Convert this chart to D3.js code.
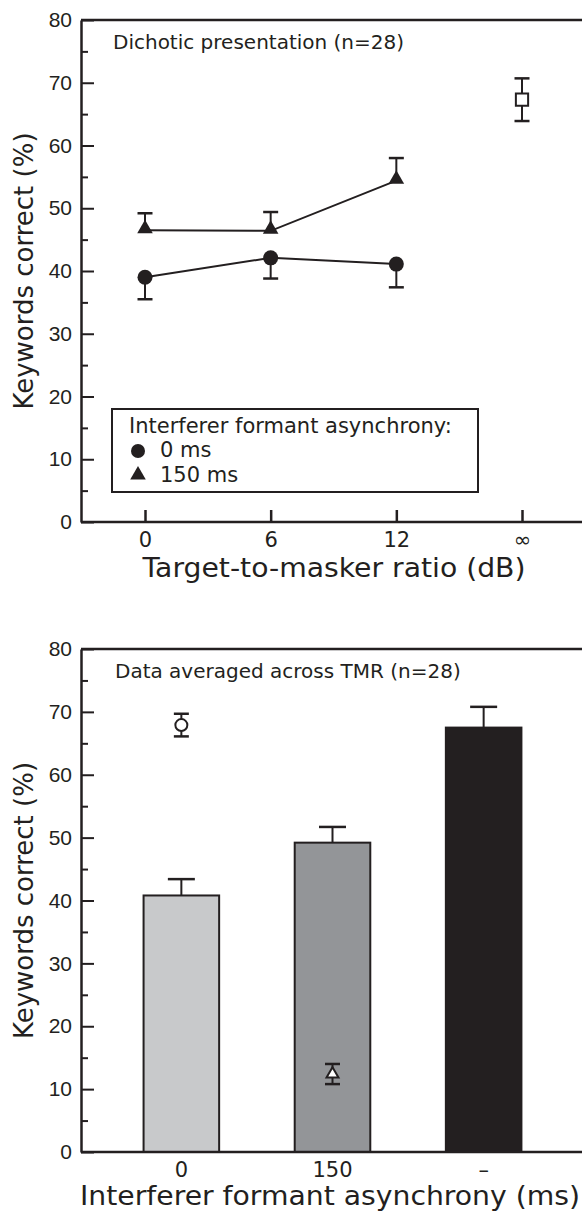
<!DOCTYPE html>
<html>
<head>
<meta charset="utf-8">
<script src="https://cdn.jsdelivr.net/npm/d3@7"></script>
<style>
  body { margin: 0; background: #fff; }
  svg text { fill: #231f20; font-family: "DejaVu Sans", sans-serif; }
</style>
</head>
<body>
<div id="chart"></div>
<script>
// Top panel: dichotic presentation, keywords correct by TMR
const tmrLabels = ["0", "6", "12", "∞"];
const sync0Mean = [39.0, 42.1, 41.1];
const sync0Err = [3.5, 3.3, 3.7];
const async150Mean = [46.5, 46.4, 54.4];
const async150Err = [2.7, 3.0, 3.6];
const refMean = 67.3;   // square at infinite TMR
const refErr = 3.4;

// Bottom panel: averaged across TMR
const asyncLabels = ["0", "150", "–"];
const barMeans = [40.8, 49.2, 67.5];
const barErrs = [2.6, 2.5, 3.3];
const barColors = ["#c8c9cb", "#939598", "#231f20"];
const openCircle = { cat: "0", mean: 67.9, err: 1.8 };
const openTriangle = { cat: "150", mean: 12.4, err: 1.6 };

// Shared y ticks
const yTicks = [0, 10, 20, 30, 40, 50, 60, 70, 80];
const yMinor = [5, 15, 25, 35, 45, 55, 65, 75];

const ink = "#231f20";
const width = 582, height = 1213;
const axisLeftX = 81, axisRightX = 582;

const svg = d3.select("#chart")
    .append("svg")
    .attr("width", width)
    .attr("height", height);

// Draws the left axis with major + minor inward ticks and a top frame line
function drawFrame(g, y) {
    g.append("g")
        .attr("transform", `translate(${axisLeftX},0)`)
        .call(d3.axisLeft(y).tickValues(yMinor).tickSize(-7).tickFormat(""))
        .call((a) => a.select(".domain").remove())
        .call((a) => a.selectAll("line").attr("stroke", ink).attr("stroke-width", 2));

    g.append("g")
        .attr("transform", `translate(${axisLeftX},0)`)
        .call(d3.axisLeft(y).tickValues(yTicks).tickSize(-13).tickPadding(9).tickSizeOuter(0))
        .call((a) => a.select(".domain").attr("stroke", ink).attr("stroke-width", 2.5))
        .call((a) => a.selectAll("line").attr("stroke", ink).attr("stroke-width", 2))
        .call((a) => a.selectAll("text")
            .style("font-family", "'Liberation Sans', Arial, sans-serif")
            .attr("font-size", 21));

    // top frame and x baseline
    g.append("line")
        .attr("x1", axisLeftX).attr("x2", axisRightX)
        .attr("y1", y(80)).attr("y2", y(80))
        .attr("stroke", ink).attr("stroke-width", 2.5);
    g.append("line")
        .attr("x1", axisLeftX).attr("x2", axisRightX)
        .attr("y1", y(0)).attr("y2", y(0))
        .attr("stroke", ink).attr("stroke-width", 2.5);

    // y title
    const mid = (y(0) + y(80)) / 2;
    g.append("text")
        .attr("transform", `translate(33,${mid}) rotate(-90)`)
        .attr("text-anchor", "middle")
        .attr("font-size", 26)
        .text("Keywords correct (%)");
}

function errBar(g, x, y0, y1, capW) {
    g.append("line")
        .attr("x1", x).attr("x2", x).attr("y1", y0).attr("y2", y1)
        .attr("stroke", ink).attr("stroke-width", 2);
    g.append("line")
        .attr("x1", x - capW / 2).attr("x2", x + capW / 2).attr("y1", y1).attr("y2", y1)
        .attr("stroke", ink).attr("stroke-width", 2.5);
}

// ---------------- Top panel ----------------
const gTop = svg.append("g");
const xTop = d3.scalePoint().domain(tmrLabels).range([145, 522]);
const yTop = d3.scaleLinear().domain([0, 80]).range([522, 20]);

drawFrame(gTop, yTop);

gTop.append("g")
    .attr("transform", `translate(0,${yTop(0)})`)
    .call(d3.axisBottom(xTop).tickSize(-12).tickPadding(10).tickSizeOuter(0))
    .call((a) => a.select(".domain").remove())
    .call((a) => a.selectAll("line").attr("stroke", ink).attr("stroke-width", 2.5))
    .call((a) => a.selectAll("text").attr("font-size", 21));

gTop.append("text")
    .attr("x", 334).attr("y", 577)
    .attr("text-anchor", "middle")
    .attr("font-size", 26)
    .attr("textLength", 383)
    .attr("lengthAdjust", "spacingAndGlyphs")
    .text("Target-to-masker ratio (dB)");

gTop.append("text")
    .attr("x", 113).attr("y", 49)
    .attr("font-size", 20)
    .text("Dichotic presentation (n=28)");

const lineTop = d3.line()
    .x((d, i) => xTop(tmrLabels[i]))
    .y((d) => yTop(d));

gTop.append("path").datum(sync0Mean)
    .attr("d", lineTop).attr("fill", "none")
    .attr("stroke", ink).attr("stroke-width", 2);
gTop.append("path").datum(async150Mean)
    .attr("d", lineTop).attr("fill", "none")
    .attr("stroke", ink).attr("stroke-width", 2);

sync0Mean.forEach((m, i) => {
    const x = xTop(tmrLabels[i]);
    errBar(gTop, x, yTop(m), yTop(m - sync0Err[i]), 15);
});
async150Mean.forEach((m, i) => {
    const x = xTop(tmrLabels[i]);
    errBar(gTop, x, yTop(m), yTop(m + async150Err[i]), 15);
});

gTop.selectAll("circle.sync0")
    .data(sync0Mean)
    .join("circle")
    .attr("class", "sync0")
    .attr("cx", (d, i) => xTop(tmrLabels[i]))
    .attr("cy", (d) => yTop(d))
    .attr("r", 7.5)
    .attr("fill", ink);

const triFilled = d3.symbol().type(d3.symbolTriangle).size(105);
gTop.selectAll("path.async150")
    .data(async150Mean)
    .join("path")
    .attr("class", "async150")
    .attr("d", triFilled)
    .attr("transform", (d, i) => `translate(${xTop(tmrLabels[i])},${yTop(d) - 1.5})`)
    .attr("fill", ink);

// reference square at infinite TMR
const xRef = xTop("∞");
errBar(gTop, xRef, yTop(refMean), yTop(refMean + refErr), 15);
errBar(gTop, xRef, yTop(refMean), yTop(refMean - refErr), 15);
gTop.append("path")
    .attr("d", d3.symbol().type(d3.symbolSquare).size(150))
    .attr("transform", `translate(${xRef},${yTop(refMean)})`)
    .attr("fill", "#fff").attr("stroke", ink).attr("stroke-width", 2);

// legend
const lg = gTop.append("g");
lg.append("rect")
    .attr("x", 112).attr("y", 409).attr("width", 366).attr("height", 83)
    .attr("fill", "#fff").attr("stroke", ink).attr("stroke-width", 2);
lg.append("text").attr("x", 129).attr("y", 433).attr("font-size", 21)
    .text("Interferer formant asynchrony:");
lg.append("circle").attr("cx", 138).attr("cy", 451).attr("r", 7).attr("fill", ink);
lg.append("text").attr("x", 160).attr("y", 457).attr("font-size", 21).text("0 ms");
lg.append("path").attr("d", triFilled)
    .attr("transform", "translate(138,475)").attr("fill", ink);
lg.append("text").attr("x", 160).attr("y", 482).attr("font-size", 21).text("150 ms");

// ---------------- Bottom panel ----------------
const gBot = svg.append("g");
const xBot = d3.scaleBand().domain(asyncLabels).range([68, 597]).paddingInner(0.5).paddingOuter(0.5);
const yBot = d3.scaleLinear().domain([0, 80]).range([1152, 649]);

gBot.selectAll("rect.bar")
    .data(barMeans)
    .join("rect")
    .attr("class", "bar")
    .attr("x", (d, i) => xBot(asyncLabels[i]))
    .attr("y", (d) => yBot(d))
    .attr("width", xBot.bandwidth())
    .attr("height", (d) => yBot(0) - yBot(d))
    .attr("fill", (d, i) => barColors[i])
    .attr("stroke", ink).attr("stroke-width", 2);

barMeans.forEach((m, i) => {
    const x = xBot(asyncLabels[i]) + xBot.bandwidth() / 2;
    errBar(gBot, x, yBot(m), yBot(m + barErrs[i]), 27);
});

drawFrame(gBot, yBot);

gBot.append("g")
    .attr("transform", `translate(0,${yBot(0)})`)
    .call(d3.axisBottom(xBot).tickSize(0).tickPadding(10))
    .call((a) => a.select(".domain").remove())
    .call((a) => a.selectAll("text").attr("font-size", 21));

gBot.append("text")
    .attr("x", 330).attr("y", 1205)
    .attr("text-anchor", "middle")
    .attr("font-size", 26)
    .attr("textLength", 500)
    .attr("lengthAdjust", "spacingAndGlyphs")
    .text("Interferer formant asynchrony (ms)");

gBot.append("text")
    .attr("x", 115).attr("y", 678)
    .attr("font-size", 20)
    .text("Data averaged across TMR (n=28)");

// open circle and open triangle markers
const xc = xBot(openCircle.cat) + xBot.bandwidth() / 2;
errBar(gBot, xc, yBot(openCircle.mean), yBot(openCircle.mean + openCircle.err), 15);
errBar(gBot, xc, yBot(openCircle.mean), yBot(openCircle.mean - openCircle.err), 15);
gBot.append("circle")
    .attr("cx", xc).attr("cy", yBot(openCircle.mean)).attr("r", 6)
    .attr("fill", "#fff").attr("stroke", ink).attr("stroke-width", 2);

const xt = xBot(openTriangle.cat) + xBot.bandwidth() / 2;
errBar(gBot, xt, yBot(openTriangle.mean), yBot(openTriangle.mean + openTriangle.err), 15);
errBar(gBot, xt, yBot(openTriangle.mean), yBot(openTriangle.mean - openTriangle.err), 15);
gBot.append("path")
    .attr("d", d3.symbol().type(d3.symbolTriangle).size(62))
    .attr("transform", `translate(${xt},${yBot(openTriangle.mean)})`)
    .attr("fill", "#fff").attr("stroke", ink).attr("stroke-width", 2);
</script>
</body>
</html>
